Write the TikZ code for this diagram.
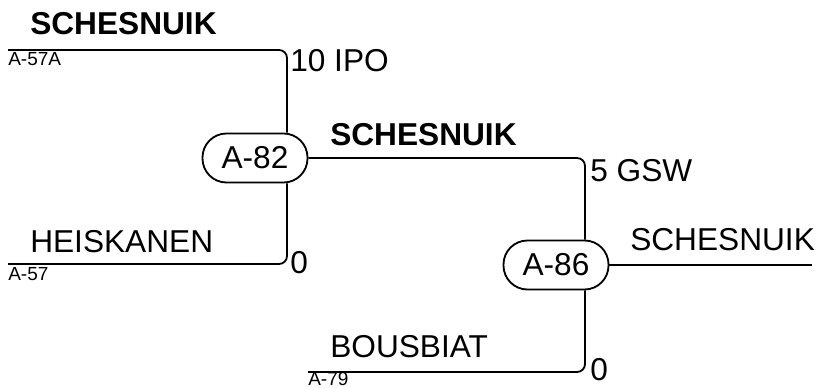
\documentclass[tikz,border=0pt]{standalone}
\usepackage{fontspec}
\setmainfont{Liberation Sans}
\usetikzlibrary{positioning}

\begin{document}
\begin{tikzpicture}[
  x=0.025cm, y=-0.025cm,
  game/.style={rectangle, rounded corners=0.6cm, draw, line width=1.3pt, minimum width=2.625cm, minimum height=1.225cm, inner sep=0pt, font=\fontsize{22.5}{24}\selectfont},
  team/.style={anchor=base west, inner sep=0pt, font=\fontsize{22.5}{24}\selectfont},
  winner/.style={team, font=\fontsize{22.5}{24}\selectfont\bfseries},
  seed/.style={anchor=base west, inner sep=0pt, font=\fontsize{13.5}{15}\selectfont},
  wire/.style={line width=1.3pt, rounded corners=0.2cm}
]
  \useasboundingbox (0,0) rectangle (819,387);

  % Spiele
  \node[game] (a82) at (255,158) {A-82};
  \node[game] (a86) at (556,265) {A-86};

  % Eingaenge
  \coordinate (in57a) at (8,50);
  \coordinate (in57) at (8,264);
  \coordinate (in79) at (308,372);
  \coordinate (out) at (812,265);

  \draw[wire] (in57a) -| ([xshift=0.8cm]a82.north);
  \draw[wire] (in57) -| ([xshift=0.8cm]a82.south);
  \draw[wire] (a82.east) -| ([xshift=0.725cm]a86.north);
  \draw[wire] (in79) -| ([xshift=0.725cm]a86.south);
  \draw[wire] (a86.east) -- (out);

  % Mannschaften
  \node[winner] (t1) at (30,35) {SCHESNUIK};
  \node[seed] (s1) at (8,66) {A-57A};
  \node[team] (r1) at (290,71) {10 IPO};

  \node[team] (t2) at (30,252) {HEISKANEN};
  \node[seed] (s2) at (8,280) {A-57};
  \node[team] (r2) at (290,273) {0};

  \node[winner] (t3) at (330,145) {SCHESNUIK};
  \node[team] (r3) at (590,181) {5 GSW};

  \node[team] (t4) at (330,357) {BOUSBIAT};
  \node[seed] (s4) at (308,385) {A-79};
  \node[team] (r4) at (590,380) {0};

  \node[team] (t5) at (630,250) {SCHESNUIK};
\end{tikzpicture}
\end{document}
